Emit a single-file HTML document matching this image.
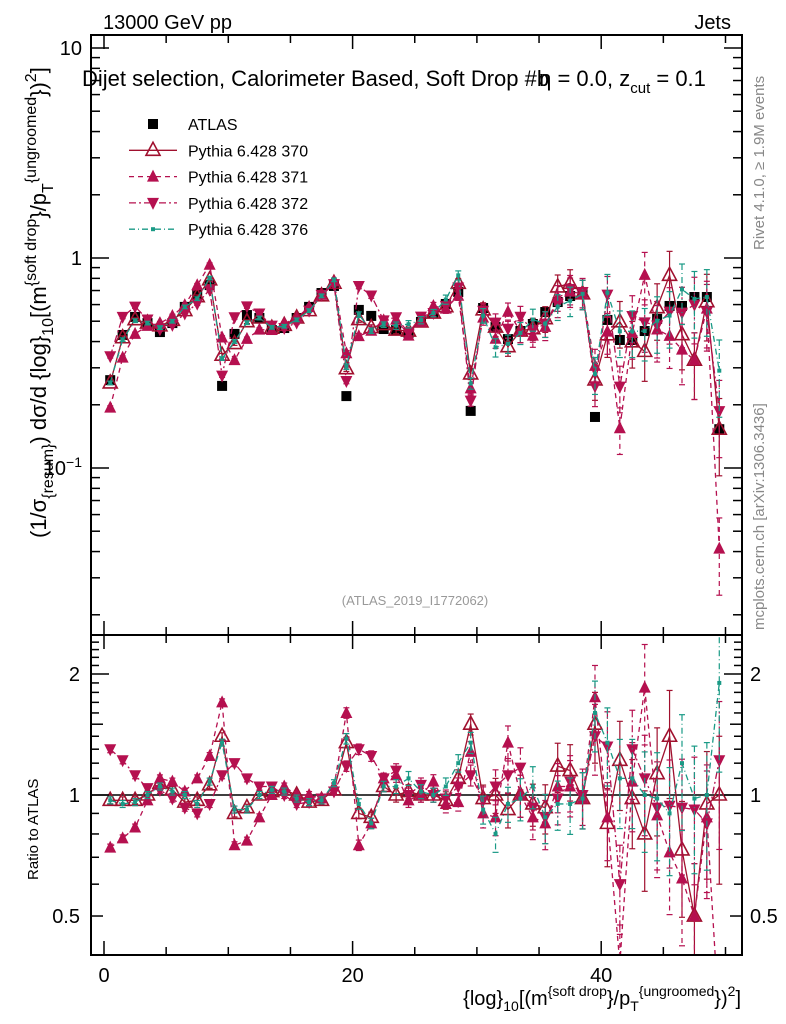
<!DOCTYPE html>
<html><head><meta charset="utf-8">
<style>
html,body{margin:0;padding:0;background:#fff;overflow:hidden;width:786px;height:1024px;}
svg{display:block;font-family:"Liberation Sans","DejaVu Sans",sans-serif;overflow:hidden;}
</style></head>
<body>
<svg id="chart" width="786" height="1024" viewBox="0 0 786 1024">
<g id="g-main"></g>
<g id="g-ratio"></g>
<g id="g-axes"></g>
<g id="g-text">
<text x="103" y="29" font-size="20">13000 GeV pp</text>
<text x="731" y="29" font-size="20" text-anchor="end">Jets</text>
<text x="82" y="86" font-size="22">Dijet selection, Calorimeter Based, Soft Drop #b<tspan dx="-10">η = 0.0, z</tspan><tspan font-size="15" dy="7">cut</tspan><tspan dy="-7"> = 0.1</tspan></text>
<text x="415" y="605" font-size="13" fill="#999" text-anchor="middle">(ATLAS_2019_I1772062)</text>
<text transform="translate(764,250) rotate(-90)" font-size="15" fill="#888">Rivet 4.1.0, ≥ 1.9M events</text>
<text transform="translate(764,630) rotate(-90)" font-size="15" fill="#888">mcplots.cern.ch [arXiv:1306.3436]</text>
<text transform="translate(46,538) rotate(-90)" font-size="22">(1/σ<tspan font-size="16" dy="7">{resum}</tspan><tspan dy="-7">) dσ/d {log}</tspan><tspan font-size="16" dy="7">10</tspan><tspan dy="-7">[(m</tspan><tspan font-size="16" dy="-10">{soft drop</tspan><tspan dy="10">}/p</tspan><tspan font-size="16" dy="7">T</tspan><tspan font-size="16" dy="-17">{ungroomed</tspan><tspan dy="10">})</tspan><tspan font-size="16" dy="-10">2</tspan><tspan dy="10">]</tspan></text>
<text transform="translate(38,880) rotate(-90)" font-size="15">Ratio to ATLAS</text>
<text x="741" y="1005" font-size="20" text-anchor="end">{log}<tspan font-size="14" dy="6">10</tspan><tspan dy="-6">[(m</tspan><tspan font-size="14" dy="-9">{soft drop</tspan><tspan dy="9">}/p</tspan><tspan font-size="14" dy="6">T</tspan><tspan font-size="14" dy="-15">{ungroomed</tspan><tspan dy="9">})</tspan><tspan font-size="14" dy="-9">2</tspan><tspan dy="9">]</tspan></text>
</g>
<g id="g-legend"></g>
</svg>
<script>
const bins = [0.5,1.5,2.5,3.5,4.5,5.5,6.5,7.5,8.5,9.5,10.5,11.5,12.5,13.5,14.5,15.5,16.5,17.5,18.5,19.5,20.5,21.5,22.5,23.5,24.5,25.5,26.5,27.5,28.5,29.5,30.5,31.5,32.5,33.5,34.5,35.5,36.5,37.5,38.5,39.5,40.5,41.5,42.5,43.5,44.5,45.5,46.5,47.5,48.5,49.5];
const atlas = [0.262,0.43,0.524,0.49,0.444,0.49,0.585,0.674,0.743,0.246,0.435,0.535,0.518,0.454,0.464,0.518,0.585,0.681,0.736,0.22,0.566,0.53,0.459,0.454,0.44,0.496,0.547,0.604,0.689,0.187,0.578,0.469,0.411,0.449,0.485,0.553,0.617,0.659,0.689,0.175,0.507,0.407,0.407,0.449,0.513,0.591,0.591,0.652,0.652,0.153];
const ratio370 = [0.97,0.97,0.97,1.0,1.07,1.03,0.96,0.97,1.06,1.4,0.9,0.93,1.0,1.02,1.03,1.0,0.96,0.97,1.03,1.35,0.9,0.88,1.05,1.0,1.02,1.0,1.0,0.97,1.1,1.5,0.98,1.0,0.92,1.0,0.95,0.93,1.18,1.15,0.98,1.5,0.85,1.22,0.98,0.8,1.13,1.4,0.73,0.5,0.95,1.0];
const ratio371 = [0.74,0.78,0.83,0.97,1.1,1.08,1.02,1.1,1.25,1.7,0.75,0.77,0.88,1.0,1.05,1.0,1.0,0.98,1.05,1.6,0.75,0.85,1.1,1.12,0.97,1.0,1.08,0.95,0.96,1.28,0.9,0.88,1.35,1.0,0.88,0.85,1.05,1.05,0.98,1.75,0.88,0.38,1.08,1.85,0.89,0.72,0.62,0.5,0.88,0.27];
const ratio372 = [1.3,1.22,1.12,1.04,1.03,0.98,0.93,0.9,0.95,1.12,1.2,1.1,1.05,1.05,1.0,0.95,0.96,0.98,1.02,1.18,1.3,1.25,1.1,1.15,1.0,1.06,1.0,0.98,1.05,1.12,0.97,1.05,1.12,1.17,0.93,0.88,0.98,1.08,1.0,1.4,1.32,0.6,1.3,1.1,0.93,0.94,0.93,0.92,0.85,1.22];
const ratio376 = [0.97,0.95,0.96,1.0,1.05,1.02,1.0,0.95,1.08,1.35,0.92,0.92,1.0,1.03,1.02,0.98,0.96,0.97,1.07,1.38,0.95,0.85,1.05,1.05,1.1,1.02,1.0,1.05,1.2,1.35,0.92,0.8,0.95,0.98,1.05,0.88,0.95,0.95,0.98,1.6,1.35,1.1,1.1,1.0,0.98,0.9,1.2,0.98,1.0,1.9];
const relErr = [0.02,0.02,0.02,0.02,0.02,0.02,0.02,0.02,0.02,0.02,0.02,0.02,0.02,0.02,0.02,0.02,0.02,0.02,0.02,0.03,0.03,0.03,0.03,0.04,0.04,0.04,0.04,0.05,0.05,0.06,0.08,0.1,0.1,0.12,0.12,0.14,0.14,0.16,0.16,0.2,0.22,0.25,0.25,0.28,0.3,0.3,0.32,0.35,0.35,0.4];
const yMainTicks = [0.1,1,10];
const yMainLabels = ["10⁻¹","1","10"];
const yRatioTicks = [0.5,1,2];
const yRatioLabels = ["0.5","1","2"];
const xTicks = [0,20,40];
const xTickLabels = ["0","20","40"];

const NS="http://www.w3.org/2000/svg";
const L=91,R=742,T=35,MB=635,RB=955;
const xs=v=>104+v*12.43;
const ym=v=>258-210*Math.log10(v);
const yr=v=>795-402*Math.log10(v);
function mk(tag,attrs,parent){const e=document.createElementNS(NS,tag);for(const k in attrs)e.setAttribute(k,attrs[k]);parent.appendChild(e);return e;}
const gM=document.getElementById('g-main'),gR=document.getElementById('g-ratio'),gA=document.getElementById('g-axes'),gL=document.getElementById('g-legend');

const defs=mk('defs',{},document.getElementById('chart'));
const c1=mk('clipPath',{id:'cm'},defs);mk('rect',{x:L,y:T,width:R-L,height:MB-T},c1);
const c2=mk('clipPath',{id:'cr'},defs);mk('rect',{x:L,y:MB,width:R-L,height:RB-MB},c2);
gM.setAttribute('clip-path','url(#cm)');gR.setAttribute('clip-path','url(#cr)');

const series=[
 {name:'mc-370',r:ratio370,col:'#a0102e',dash:'',mark:'open-up'},
 {name:'mc-371',r:ratio371,col:'#b5104f',dash:'5,4',mark:'up'},
 {name:'mc-372',r:ratio372,col:'#b5104f',dash:'7,3,2,3',mark:'down'},
 {name:'mc-376',r:ratio376,col:'#1a9a86',dash:'6,3,1,3',mark:'dot'}
];
function marker(g,kind,x,y,col){
 let e;
 if(kind==='open-up'){e=mk('polygon',{points:`${x},${y-8} ${x-7},${y+5} ${x+7},${y+5}`,fill:'none',stroke:col,'stroke-width':1.6},g);}
 else if(kind==='up'){e=mk('polygon',{points:`${x},${y-7} ${x-6},${y+5} ${x+6},${y+5}`,fill:col},g);}
 else if(kind==='down'){e=mk('polygon',{points:`${x},${y+7} ${x-6},${y-5} ${x+6},${y-5}`,fill:col},g);}
 else if(kind==='dot'){e=mk('rect',{x:x-2,y:y-2,width:4,height:4,fill:col},g);}
 else {e=mk('rect',{x:x-5,y:y-5,width:10,height:10,fill:'#000'},g);}
 return e;
}
function drawSeries(g,yf,vals,s,errScale){
 const sg=mk('g',{},g);
 
 
 const pts=bins.map((b,i)=>xs(b)+','+yf(vals[i])).join(' ');
 const ln=mk('polyline',{points:pts,fill:'none',stroke:s.col,'stroke-width':1.3,'stroke-dasharray':s.dash},sg);
 
 
 bins.forEach((b,i)=>{
  const x=xs(b),v=vals[i],e=relErr[i]*errScale;
  const y1=yf(v*(1+e)),y2=yf(Math.max(v*(1-e),1e-4));
  mk('line',{x1:x,x2:x,y1:y1,y2:y2,stroke:s.col,'stroke-width':1.2,'stroke-dasharray':s.dash},sg);
  mk('line',{x1:x-3,x2:x+3,y1:y1,y2:y1,stroke:s.col,'stroke-width':1.2},sg);
  mk('line',{x1:x-3,x2:x+3,y1:y2,y2:y2,stroke:s.col,'stroke-width':1.2},sg);
  const m=marker(sg,s.mark,x,yf(v),s.col);
  
  
 });
}
bins.forEach((b,i)=>{const m=marker(gM,'sq',xs(b),ym(atlas[i]));
 
 });
series.forEach(s=>drawSeries(gM,ym,atlas.map((a,i)=>a*s.r[i]),s,1));
const one=mk('line',{x1:L,x2:R,y1:yr(1),y2:yr(1),stroke:'#000','stroke-width':1.5},gR);


series.forEach(s=>drawSeries(gR,yr,s.r,s,1));

mk('rect',{x:L,y:T,width:R-L,height:MB-T,fill:'none',stroke:'#000','stroke-width':2},gA);
mk('rect',{x:L,y:MB,width:R-L,height:RB-MB,fill:'none',stroke:'#000','stroke-width':2},gA);
for(let v=0;v<=50;v+=5){const x=xs(v),len=(v%20===0)?14:8;
 [[T,T+len],[MB,MB-len],[MB,MB+len],[RB,RB-len]].forEach(p=>mk('line',{x1:x,x2:x,y1:p[0],y2:p[1],stroke:'#000','stroke-width':1.5},gA));}
xTicks.forEach((v,i)=>{const t=mk('text',{x:xs(v),y:982,'font-size':20,'text-anchor':'middle'},gA);t.textContent=xTickLabels[i];
 
 });
for(let d=-2;d<=1;d++){for(let k=1;k<=9;k++){const v=k*Math.pow(10,d),y=ym(v);if(y<T||y>MB)continue;const len=k===1?18:9;
 mk('line',{x1:L,x2:L+len,y1:y,y2:y,stroke:'#000','stroke-width':1.5},gA);
 mk('line',{x1:R,x2:R-len,y1:y,y2:y,stroke:'#000','stroke-width':1.5},gA);}}
yMainTicks.forEach((v,i)=>{const t=mk('text',{x:82,y:ym(v)+7,'font-size':20,'text-anchor':'end'},gA);
 if(v===0.1){t.textContent='10';const s=mk('tspan',{'font-size':14,dy:-8},t);s.textContent='−1';}else t.textContent=yMainLabels[i];
 
 });
for(let k=4;k<=25;k++){const v=k/10,y=yr(v);if(y<MB||y>RB)continue;const len=(k%10===0)?18:(k%5===0?12:8);
 mk('line',{x1:L,x2:L+len,y1:y,y2:y,stroke:'#000','stroke-width':1.5},gA);
 mk('line',{x1:R,x2:R-len,y1:y,y2:y,stroke:'#000','stroke-width':1.5},gA);}
yRatioTicks.forEach((v,i)=>{[[80,'end'],[750,'start']].forEach(p=>{const t=mk('text',{x:p[0],y:yr(v)+7,'font-size':20,'text-anchor':p[1]},gA);t.textContent=yRatioLabels[i];
 
 });});

const legNames=['ATLAS','Pythia 6.428 370','Pythia 6.428 371','Pythia 6.428 372','Pythia 6.428 376'];
legNames.forEach((n,i)=>{const y=124+i*26.3;const g=mk('g',{},gL);
 
 
 if(i===0){marker(g,'sq',153,y);}else{const s=series[i-1];
  mk('line',{x1:129,x2:177,y1:y,y2:y,stroke:s.col,'stroke-width':1.3,'stroke-dasharray':s.dash},g);marker(g,s.mark,153,y,s.col);}
 const t=mk('text',{x:188,y:y+6,'font-size':16},g);t.textContent=n;});
</script>
</body></html>
